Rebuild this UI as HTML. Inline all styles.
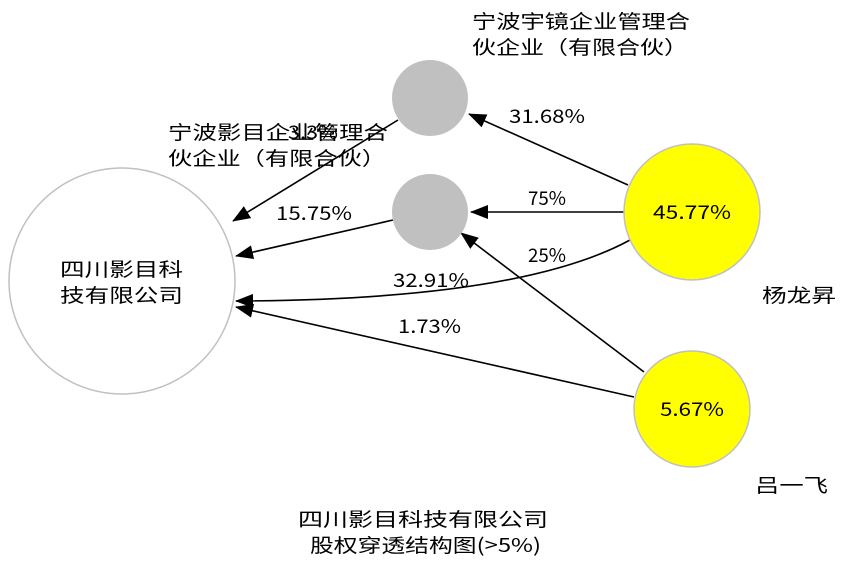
<!DOCTYPE html>
<html><head><meta charset="utf-8"><style>
body{margin:0;background:#fff}
svg text{font-family:"Noto Sans CJK SC","Liberation Sans",sans-serif;font-size:19px;fill:#000}
</style></head><body>
<svg width="847" height="577" xmlns="http://www.w3.org/2000/svg">
<defs><marker id="a" markerWidth="18" markerHeight="14" refX="17" refY="7" orient="auto" markerUnits="userSpaceOnUse" viewBox="0 0 18 14"><path d="M0,0L18,7L0,14z" fill="#000"/></marker></defs>
<g fill="none" stroke="#000" stroke-width="1.6">
<line x1="398" y1="120" x2="233" y2="221" marker-end="url(#a)"/>
<line x1="393" y1="220" x2="236" y2="256" marker-end="url(#a)"/>
<line x1="628" y1="185" x2="469" y2="114" marker-end="url(#a)"/>
<line x1="624" y1="212" x2="471" y2="212" marker-end="url(#a)"/>
<path d="M630,240 Q520,300 236,301" marker-end="url(#a)"/>
<line x1="644" y1="372" x2="461" y2="233" marker-end="url(#a)"/>
<line x1="634" y1="397" x2="236" y2="307" marker-end="url(#a)"/>
</g>
<circle cx="122" cy="281" r="113" fill="#fff" stroke="#c0c0c0" stroke-width="1.5"/>
<circle cx="430" cy="98" r="38" fill="#c0c0c0"/>
<circle cx="430" cy="212" r="38" fill="#c0c0c0"/>
<circle cx="692" cy="212" r="68" fill="#ffff00" stroke="#c0c0c0" stroke-width="1.5"/>
<circle cx="692" cy="409" r="58" fill="#ffff00" stroke="#c0c0c0" stroke-width="1.5"/>
<text x="288" y="139" textLength="50" lengthAdjust="spacingAndGlyphs">3.3%</text>
<text x="168" y="139" textLength="220" lengthAdjust="spacingAndGlyphs">宁波影目企业管理合</text>
<text x="168" y="165" textLength="218" lengthAdjust="spacingAndGlyphs">伙企业（有限合伙）</text>
<text x="472" y="28" textLength="218" lengthAdjust="spacingAndGlyphs">宁波宇镜企业管理合</text>
<text x="472" y="54" textLength="216" lengthAdjust="spacingAndGlyphs">伙企业（有限合伙）</text>
<text x="60" y="276" textLength="123" lengthAdjust="spacingAndGlyphs">四川影目科</text>
<text x="60" y="302" textLength="123" lengthAdjust="spacingAndGlyphs">技有限公司</text>
<text x="276" y="220" textLength="76" lengthAdjust="spacingAndGlyphs">15.75%</text>
<text x="509" y="123" textLength="76" lengthAdjust="spacingAndGlyphs">31.68%</text>
<text x="528" y="205" textLength="38" lengthAdjust="spacingAndGlyphs">75%</text>
<text x="528" y="262" textLength="38" lengthAdjust="spacingAndGlyphs">25%</text>
<text x="393" y="287" textLength="76" lengthAdjust="spacingAndGlyphs">32.91%</text>
<text x="398" y="333" textLength="63" lengthAdjust="spacingAndGlyphs">1.73%</text>
<text x="653" y="219" textLength="78" lengthAdjust="spacingAndGlyphs">45.77%</text>
<text x="660" y="416" textLength="64" lengthAdjust="spacingAndGlyphs">5.67%</text>
<text x="762" y="302" textLength="74" lengthAdjust="spacingAndGlyphs">杨龙昇</text>
<text x="755" y="492" textLength="73" lengthAdjust="spacingAndGlyphs">吕一飞</text>
<text x="298" y="526" textLength="250" lengthAdjust="spacingAndGlyphs">四川影目科技有限公司</text>
<text x="310" y="552" textLength="231" lengthAdjust="spacingAndGlyphs">股权穿透结构图(&gt;5%)</text>
</svg>
</body></html>
